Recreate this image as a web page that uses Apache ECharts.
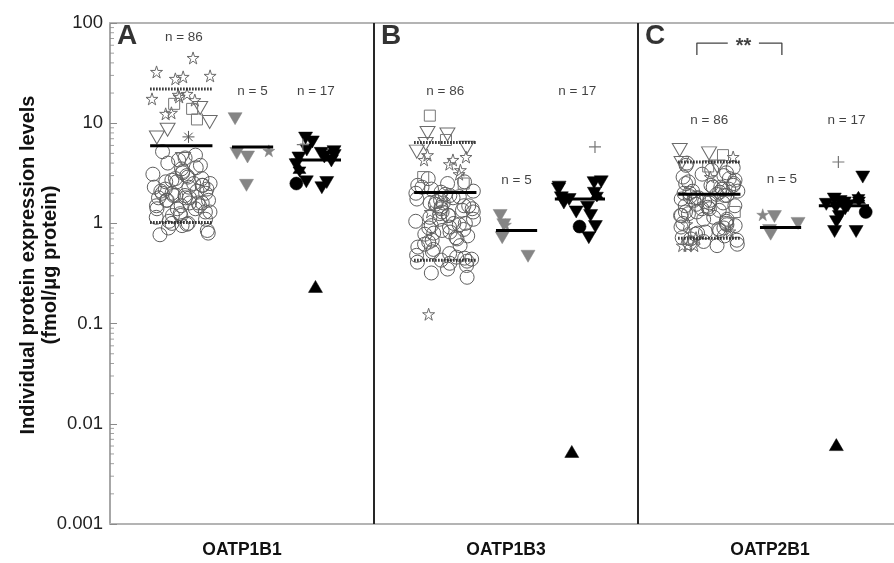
<!DOCTYPE html>
<html><head><meta charset="utf-8">
<script src="https://cdn.jsdelivr.net/npm/echarts@6/dist/echarts.min.js"></script>
<style>html,body{margin:0;padding:0;background:#fff}#c{width:894px;height:563px}</style>
</head><body><div id="c"></div>
<script>
// ---------- DATA ----------
const categories = ['OATP1B1', 'OATP1B3', 'OATP2B1'];
const panelLetters = ['A', 'B', 'C'];
const yTickLabels = ['0.001', '0.01', '0.1', '1', '10', '100'];
const yTitle = ['Individual protein expression levels', '(fmol/μg protein)'];
const groupCounts = ['n = 86', 'n = 5', 'n = 17'];
const significance = '**';

// Panel A – OATP1B1
const A_g1_circle = [5.2,4.8,4.5,4.3,4.0,3.8,3.6,3.5,3.3,3.2,3.1,3.0,2.9,2.8,2.8,2.7,2.6,2.6,2.5,2.5,2.4,2.4,2.3,2.3,2.2,2.2,2.1,2.1,2.0,2.0,2.0,1.9,1.9,1.9,1.8,1.8,1.8,1.7,1.7,1.7,1.6,1.6,1.6,1.5,1.5,1.5,1.4,1.4,1.4,1.3,1.3,1.25,1.2,1.2,1.15,1.1,1.05,1.0,1.0,0.98,0.95,0.9,0.85,0.8,0.77];
const A_g1_star = [44.8,32.5,29.7,29.0,27.7,19.6,19.2,18.3,17.5,17.0,12.7,12.4];
const A_g1_triDown = [14.2,10.3,8.6,7.2,4.4];
const A_g1_square = [15.6,13.9,10.9];
const A_g1_asterisk = [7.3];
const A_g2_triDown = [11.1,5.0,4.6,2.4];
const A_g2_star = [5.3];
const A_g3_triDown = [7.1,6.5,5.4,5.2,5.0,4.75,4.6,4.5,4.2,3.85,2.6,2.56,2.27];
const A_g3_hexagram = [3.4];
const A_g3_circle = [2.5];
const A_g3_plus = [6.1];
const A_g3_triUp = [0.235];

// Panel B – OATP1B3
const B_g1_circle = [2.8,2.6,2.5,2.4,2.3,2.2,2.1,2.05,2.0,1.95,1.9,1.85,1.8,1.75,1.7,1.65,1.6,1.6,1.55,1.5,1.5,1.45,1.4,1.4,1.35,1.3,1.3,1.25,1.2,1.2,1.15,1.1,1.1,1.05,1.0,1.0,0.97,0.95,0.92,0.9,0.87,0.85,0.82,0.8,0.78,0.75,0.72,0.7,0.68,0.65,0.62,0.6,0.58,0.55,0.52,0.5,0.48,0.46,0.45,0.44,0.43,0.42,0.41,0.4,0.38,0.35,0.32,0.29];
const B_g1_star = [4.8,4.6,4.3,4.3,3.9,3.4,3.1,1.3,0.124];
const B_g1_triDown = [8.0,7.7,6.2,5.7,5.2];
const B_g1_square = [11.9,6.8,2.9,2.5];
const B_g2_triDown = [1.2,0.97,0.72,0.47];
const B_g2_star = [0.97];
const B_g3_triDown = [2.6,2.55,2.3,2.2,2.0,1.8,1.73,1.6,1.45,1.3,1.2,0.93,0.72];
const B_g3_hexagram = [1.9];
const B_g3_circle = [0.93];
const B_g3_plus = [5.8];
const B_g3_triUp = [0.0053];

// Panel C – OATP2B1
const C_g1_circle = [4.0,3.8,3.6,3.4,3.2,3.1,3.0,2.9,2.8,2.7,2.6,2.5,2.5,2.4,2.4,2.3,2.3,2.2,2.2,2.1,2.1,2.05,2.0,2.0,1.95,1.9,1.9,1.85,1.8,1.8,1.75,1.7,1.7,1.65,1.6,1.6,1.55,1.5,1.5,1.45,1.4,1.4,1.35,1.3,1.3,1.25,1.2,1.2,1.15,1.1,1.1,1.05,1.0,1.0,0.97,0.95,0.92,0.9,0.88,0.85,0.82,0.8,0.78,0.75,0.72,0.7,0.68,0.66,0.64,0.62,0.6];
const C_g1_star = [4.6,2.9,0.98,0.83,0.72,0.6,0.6,0.6];
const C_g1_triDown = [5.4,5.0,4.0,3.7];
const C_g1_square = [4.8,3.7,1.3];
const C_g2_triDown = [1.17,1.0,0.85,0.78];
const C_g2_star = [1.22];
const C_g3_triDown = [2.9,1.75,1.65,1.6,1.55,1.5,1.45,1.4,1.17,1.04,0.83,0.83];
const C_g3_hexagram = [1.8,1.7];
const C_g3_circle = [1.3];
const C_g3_plus = [4.1];
const C_g3_triUp = [0.0062];

// Summary lines (solid central line per group, dotted upper/lower for n = 86 group)
const centralLines = [[5.96,5.8,4.3],[2.03,0.85,1.75],[1.95,0.91,1.5]];
const upperDotted = [22.0,6.4,4.1];
const lowerDotted = [1.02,0.43,0.71];

// ---------- LAYOUT / STYLE ----------
const X_MAX = 784 / 264;   // visible part of the three panels (third panel is cut at right edge)
const TRI_DOWN = 'path://M0,0 L100,0 L50,86 Z';
const TRI_UP = 'path://M50,0 L100,86 L0,86 Z';
const STAR = 'path://M50,2 L61,36 L97,36 L68,57 L79,92 L50,71 L21,92 L32,57 L3,36 L39,36 Z';
const HEX = 'path://M50,0 L93,75 L7,75 Z M50,100 L7,25 L93,25 Z';
const ASTER = 'path://M50,0 L50,100 M0,50 L100,50 M15,15 L85,85 M85,15 L15,85';
const PLUS = 'path://M50,0 L50,100 M0,50 L100,50';
const NONE = 'rgba(0,0,0,0)';
const kinds = {
  openCircle:  {symbol:'circle', size:14, fill:NONE, stroke:'#5e5e5e', lw:1, z:2},
  openStar:    {symbol:STAR, size:[12,12], fill:NONE, stroke:'#6a6a6a', lw:1, z:3},
  openTriDown: {symbol:TRI_DOWN, size:[15,13], fill:NONE, stroke:'#6a6a6a', lw:1, z:3},
  openSquare:  {symbol:'rect', size:11, fill:NONE, stroke:'#777', lw:1, z:3},
  asterisk:    {symbol:ASTER, size:[12,12], fill:NONE, stroke:'#555', lw:1, z:3},
  grayTriDown: {symbol:TRI_DOWN, size:[14,12], fill:'#858585', stroke:'#858585', lw:0.5, z:3},
  grayStar:    {symbol:STAR, size:[12,12], fill:'#858585', stroke:'#858585', lw:0.5, z:3},
  blackTriDown:{symbol:TRI_DOWN, size:[14,12], fill:'#000', stroke:'#000', lw:0.5, z:3},
  blackHex:    {symbol:HEX, size:[13,13], fill:'#000', stroke:'#000', lw:0.5, z:3},
  blackCircle: {symbol:'circle', size:13, fill:'#000', stroke:'#000', lw:0.5, z:3},
  plus:        {symbol:PLUS, size:[12,12], fill:NONE, stroke:'#777', lw:1.2, z:3},
  blackTriUp:  {symbol:TRI_UP, size:[14,12], fill:'#000', stroke:'#000', lw:0.5, z:3}
};
const groupCenter = [0.27, 0.54, 0.78];
const groupSpread = [0.112, 0.07, 0.085];
const lineHalf = [0.118, 0.078, 0.095];

// deterministic horizontal scatter (jitter) for the dot plot
function jitter(k, seed, s) {
  const x = Math.sin(k * 12.9898 + seed * 78.233) * 43758.5453;
  return ((x - Math.floor(x)) * 2 - 1) * s;
}

const series = [];
function addGroup(panel, g, parts) {
  let k = 0;
  parts.forEach(([vals, kind]) => {
    const st = kinds[kind];
    series.push({
      type:'scatter', xAxisIndex:0, yAxisIndex:0, silent:true, z:st.z,
      symbol:st.symbol, symbolSize:st.size,
      itemStyle:{color:st.fill, borderColor:st.stroke, borderWidth:st.lw, opacity:1},
      data: vals.map(v => [panel + groupCenter[g] + jitter(k++, panel * 3 + g + 1, groupSpread[g]), v])
    });
  });
}
function hLine(panel, g, v, style) {
  const c = panel + groupCenter[g], h = lineHalf[g];
  series.push({type:'line', xAxisIndex:0, yAxisIndex:0, silent:true, z:6, symbol:'none',
    lineStyle:style, data:[[c - h, v], [c + h, v]]});
}

const panels = [
  [[[A_g1_circle,'openCircle'],[A_g1_star,'openStar'],[A_g1_triDown,'openTriDown'],[A_g1_square,'openSquare'],[A_g1_asterisk,'asterisk']],
   [[A_g2_triDown,'grayTriDown'],[A_g2_star,'grayStar']],
   [[A_g3_triDown,'blackTriDown'],[A_g3_hexagram,'blackHex'],[A_g3_circle,'blackCircle'],[A_g3_plus,'plus'],[A_g3_triUp,'blackTriUp']]],
  [[[B_g1_circle,'openCircle'],[B_g1_star,'openStar'],[B_g1_triDown,'openTriDown'],[B_g1_square,'openSquare']],
   [[B_g2_triDown,'grayTriDown'],[B_g2_star,'grayStar']],
   [[B_g3_triDown,'blackTriDown'],[B_g3_hexagram,'blackHex'],[B_g3_circle,'blackCircle'],[B_g3_plus,'plus'],[B_g3_triUp,'blackTriUp']]],
  [[[C_g1_circle,'openCircle'],[C_g1_star,'openStar'],[C_g1_triDown,'openTriDown'],[C_g1_square,'openSquare']],
   [[C_g2_triDown,'grayTriDown'],[C_g2_star,'grayStar']],
   [[C_g3_triDown,'blackTriDown'],[C_g3_hexagram,'blackHex'],[C_g3_circle,'blackCircle'],[C_g3_plus,'plus'],[C_g3_triUp,'blackTriUp']]]
];
panels.forEach((groups, p) => {
  groups.forEach((parts, g) => addGroup(p, g, parts));
  groups.forEach((parts, g) => hLine(p, g, centralLines[p][g], {color:'#000', width:3, type:'solid'}));
  hLine(p, 0, upperDotted[p], {color:'#222', width:3, type:[1.5,1.5]});
  hLine(p, 0, lowerDotted[p], {color:'#222', width:3, type:[1.5,1.5]});
});

// panel dividers
[1, 2].forEach(x => series.push({type:'line', silent:true, z:4, symbol:'none',
  lineStyle:{color:'#262626', width:2}, data:[[x, 0.001], [x, 100]]}));

// minor ticks on log axis (2..9 within each decade)
const minorTickVals = [];
for (let e = -3; e < 2; e++) for (let m = 2; m <= 9; m++) minorTickVals.push(m * Math.pow(10, e));
series.push({type:'scatter', silent:true, z:7, symbol:'rect', symbolSize:[4,1], symbolOffset:[2,0],
  itemStyle:{color:'#8a8a8a'}, data:minorTickVals.map(v => [0, v])});

// text annotations (panel-relative x, y value)
const txt = [];
const nPos = [[[0.28,72],[0.54,21],[0.78,21]],[[0.27,21],[0.54,2.67],[0.77,21]],[[0.27,10.8],[0.545,2.74],[0.79,10.8]]];
nPos.forEach((row, p) => row.forEach((pos, g) => txt.push({value:[p + pos[0], pos[1]], t:groupCounts[g], s:13.5, w:'normal'})));
panelLetters.forEach((L, p) => txt.push({value:[p + 0.065, 74], t:L, s:28, w:'bold', c:'#000'}));
txt.push({value:[2.4, 63], t:significance, s:20, w:'bold', dy:3});
series.push({type:'scatter', silent:true, z:8, symbolSize:0,
  data:txt.map(d => ({value:d.value, label:{show:true, position:'inside', formatter:d.t,
    fontFamily:'Liberation Sans', fontSize:d.s, fontWeight:d.w, color:d.c || '#111', offset:[0, d.dy || 0]}}))});

// significance bracket
series.push({type:'line', silent:true, z:8, symbol:'none', lineStyle:{color:'#444', width:1.3},
  data:[[2.223, 48], [2.223, 63], [2.34, 63]]});
series.push({type:'line', silent:true, z:8, symbol:'none', lineStyle:{color:'#444', width:1.3},
  data:[[2.458, 63], [2.545, 63], [2.545, 48]]});

const chart = echarts.init(document.getElementById('c'), null, {renderer:'canvas'});
chart.setOption({
  animation:false,
  backgroundColor:'#fff',
  grid:{left:110, top:23, right:0, height:501, show:false},
  graphic:[{type:'text', x:39, y:265, rotation:Math.PI / 2, silent:true,
    style:{text:yTitle.join('\n'), align:'center', verticalAlign:'middle', lineHeight:22,
      fontFamily:'Liberation Sans', fontWeight:'bold', fontSize:20, fill:'#111'}}],
  xAxis:[
    {type:'value', min:0, max:X_MAX, position:'bottom',
     axisLine:{show:true, onZero:false, lineStyle:{color:'#b4b4b4', width:2}},
     axisTick:{show:false}, splitLine:{show:false},
     axisLabel:{show:true, customValues:[0.5, 1.5, 2.5], margin:17,
       formatter:v => categories[Math.floor(v)],
       fontFamily:'Liberation Sans', fontWeight:'bold', fontSize:17.5, color:'#111'}},
    {type:'value', min:0, max:X_MAX, position:'top',
     axisLine:{show:true, onZero:false, lineStyle:{color:'#b4b4b4', width:2}},
     axisTick:{show:false}, splitLine:{show:false}, axisLabel:{show:false}}
  ],
  yAxis:{type:'log', logBase:10, min:0.001, max:100,
    axisLine:{show:true, lineStyle:{color:'#8a8a8a', width:1.5}},
    axisTick:{show:true, inside:true, length:7, lineStyle:{color:'#8a8a8a'}},
    splitLine:{show:false},
    axisLabel:{fontFamily:'Liberation Sans', fontSize:18.5, color:'#222', margin:7,
      formatter:v => yTickLabels[Math.round(Math.log10(v)) + 3]}
  },
  series
});
</script></body></html>
